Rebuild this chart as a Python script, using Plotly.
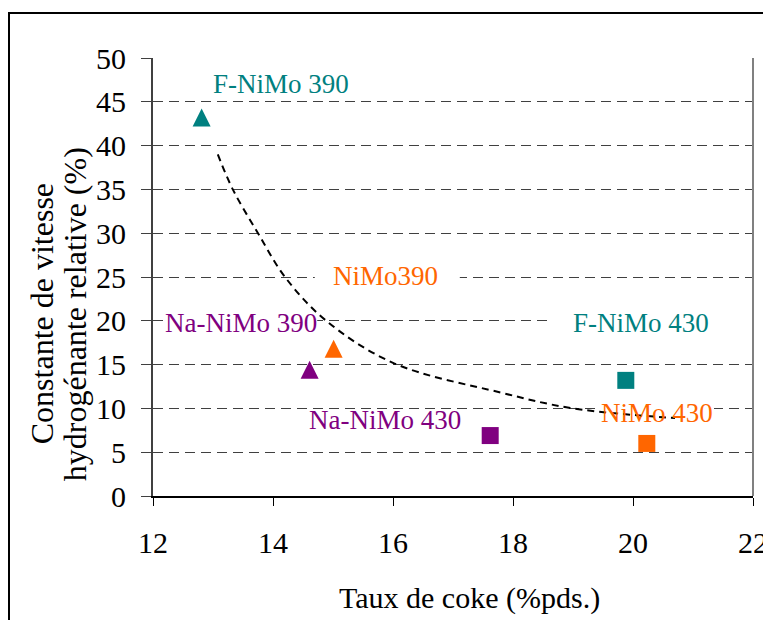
import plotly.graph_objects as go

# ---- data ----
catalysts = ["F-NiMo 390", "NiMo390", "Na-NiMo 390", "F-NiMo 430", "NiMo 430", "Na-NiMo 430"]
coke = [12.81, 15.01, 14.61, 19.88, 20.23, 17.62]
k_rel = [43.2, 16.8, 14.4, 13.2, 6.0, 6.9]
symbols_kind = ["tri", "tri", "tri", "sq", "sq", "sq"]

# trend curve
trend_x = [13.08, 13.33, 13.75, 14.2, 14.87, 16.0, 17.8, 19.0, 20.7]
trend_y = [39.0, 35.0, 30.0, 25.0, 20.1, 15.2, 11.8, 10.0, 8.9]

# label positions
label_x = [14.13, 15.88, 13.47, 20.13, 20.4, 15.87]
label_y = [47.0, 25.1, 19.8, 19.8, 9.5, 8.7]

x_ticks = [12, 14, 16, 18, 20, 22]
y_ticks = [0, 5, 10, 15, 20, 25, 30, 35, 40, 45, 50]

y_title_lines = ["Constante de vitesse", "hydrogénante relative (%)"]
x_title = "Taux de coke (%pds.)"

# ---- styles ----
colors = ["#008080", "#FF6600", "#800080", "#008080", "#FF6600", "#800080"]
# white label boxes (pixel offsets around label anchor), None = no box
label_boxes = [None, (-71, 74), (-76, 76), (-88, 112), (-57, 57), None]
y_title_xpos = [-0.185, -0.13]
FONT = "Liberation Serif, Times New Roman, serif"

fig = go.Figure()

fig.add_trace(go.Scatter(
    x=trend_x, y=trend_y, mode="lines",
    line=dict(color="black", width=2, dash="7px,5px", shape="spline", smoothing=1.0),
    hoverinfo="skip", showlegend=False,
))

for name, xv, yv, kind, c in zip(catalysts, coke, k_rel, symbols_kind, colors):
    if kind == "tri":
        marker = dict(symbol="arrow-down", angle=180, size=18, color=c, standoff=9,
                      line=dict(width=0))
    else:
        marker = dict(symbol="square", size=17, color=c, line=dict(width=0))
    fig.add_trace(go.Scatter(x=[xv], y=[yv], mode="markers", marker=marker,
                             name=name, showlegend=False))

for name, lx, ly, c, box in zip(catalysts, label_x, label_y, colors, label_boxes):
    if box is not None:
        fig.add_shape(type="rect", layer="between",
                      xref="x", yref="y", xsizemode="pixel", ysizemode="pixel",
                      xanchor=lx, yanchor=ly, x0=box[0], x1=box[1], y0=-14, y1=14,
                      fillcolor="white", line=dict(width=0))
    fig.add_annotation(x=lx, y=ly, xref="x", yref="y", text=name, showarrow=False,
                       font=dict(family=FONT, size=27, color=c),
                       xanchor="center", yanchor="middle")

# right border of plot area
fig.add_shape(type="line", xref="paper", yref="paper", x0=1, x1=1, y0=0, y1=1,
              line=dict(color="#808080", width=2))
# outer frame
fig.add_shape(type="rect", xref="paper", yref="paper",
              x0=-0.24, x1=1.05, y0=-0.32, y1=1.1027,
              line=dict(color="black", width=2), fillcolor="rgba(0,0,0,0)")

# axis titles
for txt, xp in zip(y_title_lines, y_title_xpos):
    fig.add_annotation(xref="paper", yref="paper", x=xp, y=0.415, text=txt,
                       textangle=-90, showarrow=False, xanchor="center", yanchor="middle",
                       font=dict(family=FONT, size=32, color="black"))
fig.add_annotation(xref="paper", yref="paper", x=0.527, y=-0.233,
                   text=x_title, showarrow=False,
                   xanchor="center", yanchor="middle",
                   font=dict(family=FONT, size=30, color="black"))

fig.update_xaxes(range=[12, 22], tickvals=x_ticks, ticktext=[str(v) for v in x_ticks],
                 automargin=False,
                 showgrid=False, zeroline=False, showline=True, linecolor="black", linewidth=2,
                 ticks="outside", ticklen=8, tickwidth=1, tickcolor="black",
                 ticklabelstandoff=11,
                 tickfont=dict(family=FONT, size=30, color="black"))
fig.update_yaxes(range=[0, 50], tickvals=y_ticks, ticktext=[str(v) for v in y_ticks],
                 automargin=False,
                 showgrid=True, gridcolor="#404040", gridwidth=1, griddash="10px,6px",
                 zeroline=False, showline=True, linecolor="#404040", linewidth=2,
                 ticks="outside", ticklen=10, tickwidth=1, tickcolor="#404040",
                 ticklabelstandoff=9,
                 tickfont=dict(family=FONT, size=30, color="black"))

fig.update_layout(
    width=763, height=612,
    margin=dict(l=145, r=18, t=50, b=124, autoexpand=False),
    paper_bgcolor="white", plot_bgcolor="white",
    font=dict(family=FONT, color="black"),
    showlegend=False,
)

fig.write_html("out.html")
